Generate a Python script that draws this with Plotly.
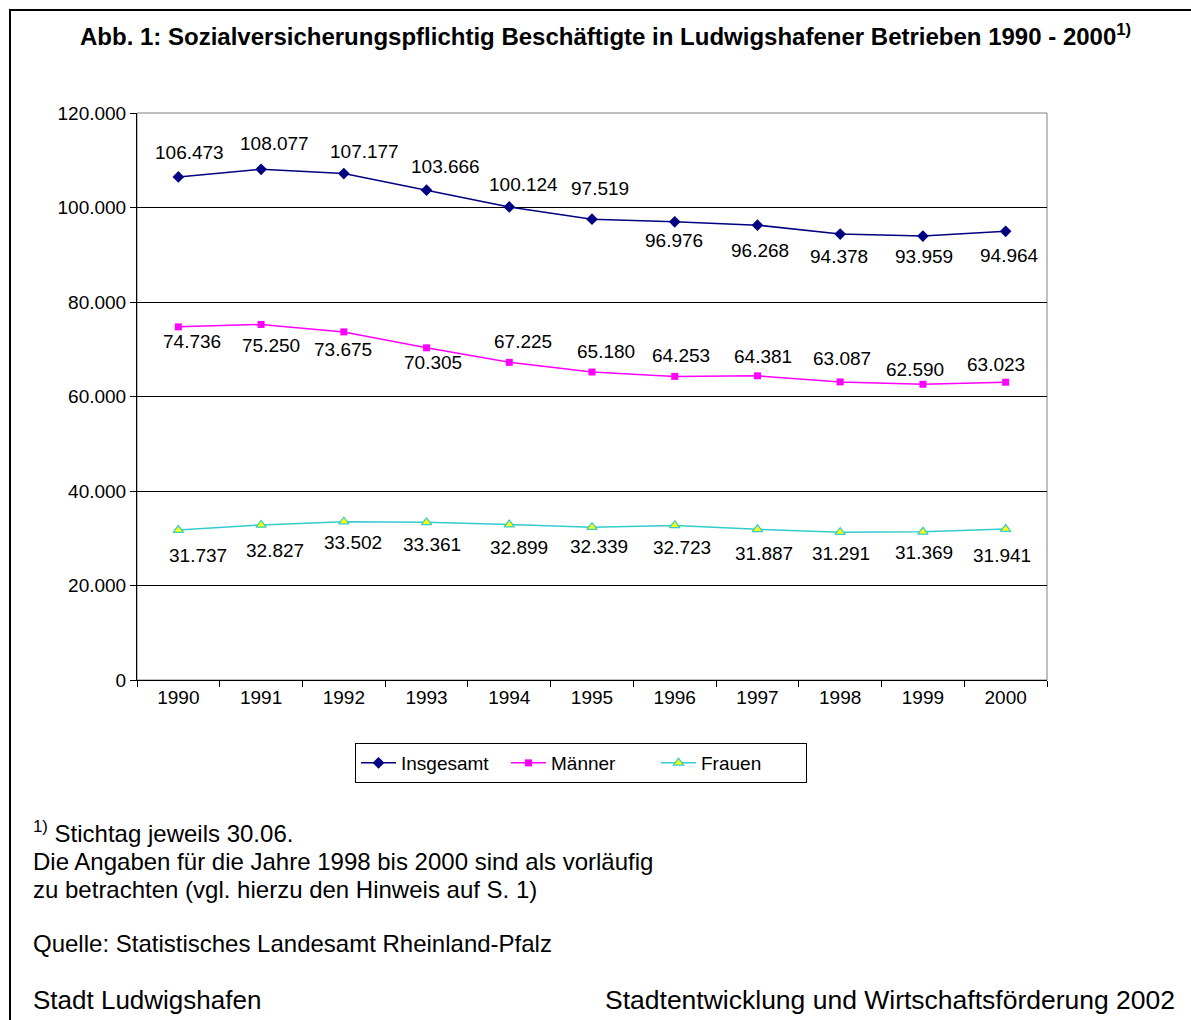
import plotly.graph_objects as go

# data (Stichtag jeweils 30.06.)
years = ['1990', '1991', '1992', '1993', '1994', '1995', '1996', '1997', '1998', '1999', '2000']
insgesamt = [106473, 108077, 107177, 103666, 100124, 97519, 96976, 96268, 94378, 93959, 94964]
maenner = [74736, 75250, 73675, 70305, 67225, 65180, 64253, 64381, 63087, 62590, 63023]
frauen = [31737, 32827, 33502, 33361, 32899, 32339, 32723, 31887, 31291, 31369, 31941]

# label placement (pixel offsets, as in the Excel original)
ins_dx = [11, 13, 21, 19, 14, 8, -1, 3, -1, 1, 4]
ins_dy = [24, 26, 22, 24, 22, 31, -19, -25, -22, -20, -24]
mae_dx = [14, 10, -1, 6, 14, 14, 6, 6, 2, -8, -10]
mae_dy = [-15, -21, -18, -15, 21, 21, 21, 19, 23, 15, 18]
fra_dx = [20, 14, 9, 5, 10, 7, 7, 7, 1, 1, -4]
fra_dy = [-25, -26, -21, -22, -23, -19, -22, -24, -21, -21, -26]

W, H = 1191, 1020
L, R, T, B = 137, 1047, 113, 680
FONT = 'Liberation Sans, Arial, sans-serif'


def px(x):
    return (x - L) / (R - L)


def py(y):
    return (B - y) / (B - T)


def fmt(v):
    return f'{v:,}'.replace(',', '.')


fig = go.Figure()
fig.add_trace(go.Scatter(x=years, y=insgesamt, name='Insgesamt', mode='lines+markers',
                         line=dict(color='#000080', width=1.5),
                         marker=dict(symbol='diamond', size=9, color='#000080')))
fig.add_trace(go.Scatter(x=years, y=maenner, name='Männer', mode='lines+markers',
                         line=dict(color='#FF00FF', width=1.5),
                         marker=dict(symbol='square', size=7, color='#FF00FF')))
fig.add_trace(go.Scatter(x=years, y=frauen, name='Frauen', mode='lines+markers',
                         line=dict(color='#33CCCC', width=1.5),
                         marker=dict(symbol='triangle-up', size=9, color='#FFFF00',
                                     line=dict(color='#33CCCC', width=1.2))))

annotations = []
for vals, dxs, dys in [(insgesamt, ins_dx, ins_dy), (maenner, mae_dx, mae_dy), (frauen, fra_dx, fra_dy)]:
    for i, (v, dx, dy) in enumerate(zip(vals, dxs, dys)):
        # category axis: annotations take the category index
        annotations.append(dict(x=i, y=v, xref='x', yref='y', text=fmt(v), showarrow=False,
                                xshift=dx, yshift=dy, font=dict(size=19, color='black')))

# title and page texts
annotations.append(dict(x=px(605), y=py(35), xref='paper', yref='paper', showarrow=False,
                        text='<b>Abb. 1: Sozialversicherungspflichtig Beschäftigte in Ludwigshafener Betrieben 1990 - 2000<sup>1)</sup></b>',
                        font=dict(size=24, color='black'), xanchor='center', yanchor='middle'))
notes = [
    (832, '<sup>1)</sup> Stichtag jeweils 30.06.'),
    (861, 'Die Angaben für die Jahre 1998 bis 2000 sind als vorläufig'),
    (889, 'zu betrachten (vgl. hierzu den Hinweis auf S. 1)'),
    (943, 'Quelle: Statistisches Landesamt Rheinland-Pfalz'),
]
for y, t in notes:
    annotations.append(dict(x=px(31), y=py(y), xref='paper', yref='paper', text=t, showarrow=False,
                            xanchor='left', yanchor='middle', font=dict(size=24, color='black')))
annotations.append(dict(x=px(31), y=py(1000), xref='paper', yref='paper', text='Stadt Ludwigshafen',
                        showarrow=False, xanchor='left', yanchor='middle', font=dict(size=26, color='black')))
annotations.append(dict(x=px(1177), y=py(1000), xref='paper', yref='paper',
                        text='Stadtentwicklung und Wirtschaftsförderung 2002',
                        showarrow=False, xanchor='right', yanchor='middle', font=dict(size=26.5, color='black')))

shapes = [
    # page frame
    dict(type='rect', xref='paper', yref='paper', x0=px(10), x1=px(1200), y0=py(1030), y1=py(10),
         line=dict(color='black', width=2), layer='below'),
    # plot area frame
    dict(type='rect', xref='paper', yref='paper', x0=0, x1=1, y0=0, y1=1,
         line=dict(color='#808080', width=1), layer='below'),
]

fig.update_layout(
    width=W, height=H,
    margin=dict(l=L, r=W - R, t=T, b=H - B),
    paper_bgcolor='white', plot_bgcolor='white',
    font=dict(family=FONT, color='black', size=19),
    separators=',.',
    showlegend=True,
    legend=dict(orientation='h', x=px(581), xanchor='center', y=py(743), yanchor='top',
                bordercolor='black', borderwidth=1, font=dict(size=19),
                itemwidth=35, entrywidth=100, traceorder='normal', tracegroupgap=0),
    annotations=annotations,
    shapes=shapes,
)
fig.update_xaxes(type='category', range=[-0.5, 10.5], showgrid=False, showline=True,
                 linecolor='black', linewidth=1, ticks='outside', tickson='boundaries',
                 ticklen=6, tickcolor='black', tickfont=dict(size=19), mirror=False)
fig.update_yaxes(range=[0, 120000], dtick=20000, tickformat=',d', showgrid=True,
                 gridcolor='black', gridwidth=1, showline=True, linecolor='black', linewidth=1,
                 ticks='outside', ticklen=6, tickcolor='black', zeroline=False,
                 tickfont=dict(size=19))

# drop the default page margin so the figure sits at the window's top-left corner
fig.write_html('out.html', config={'displayModeBar': False},
               post_script="document.body.style.margin='0';")
